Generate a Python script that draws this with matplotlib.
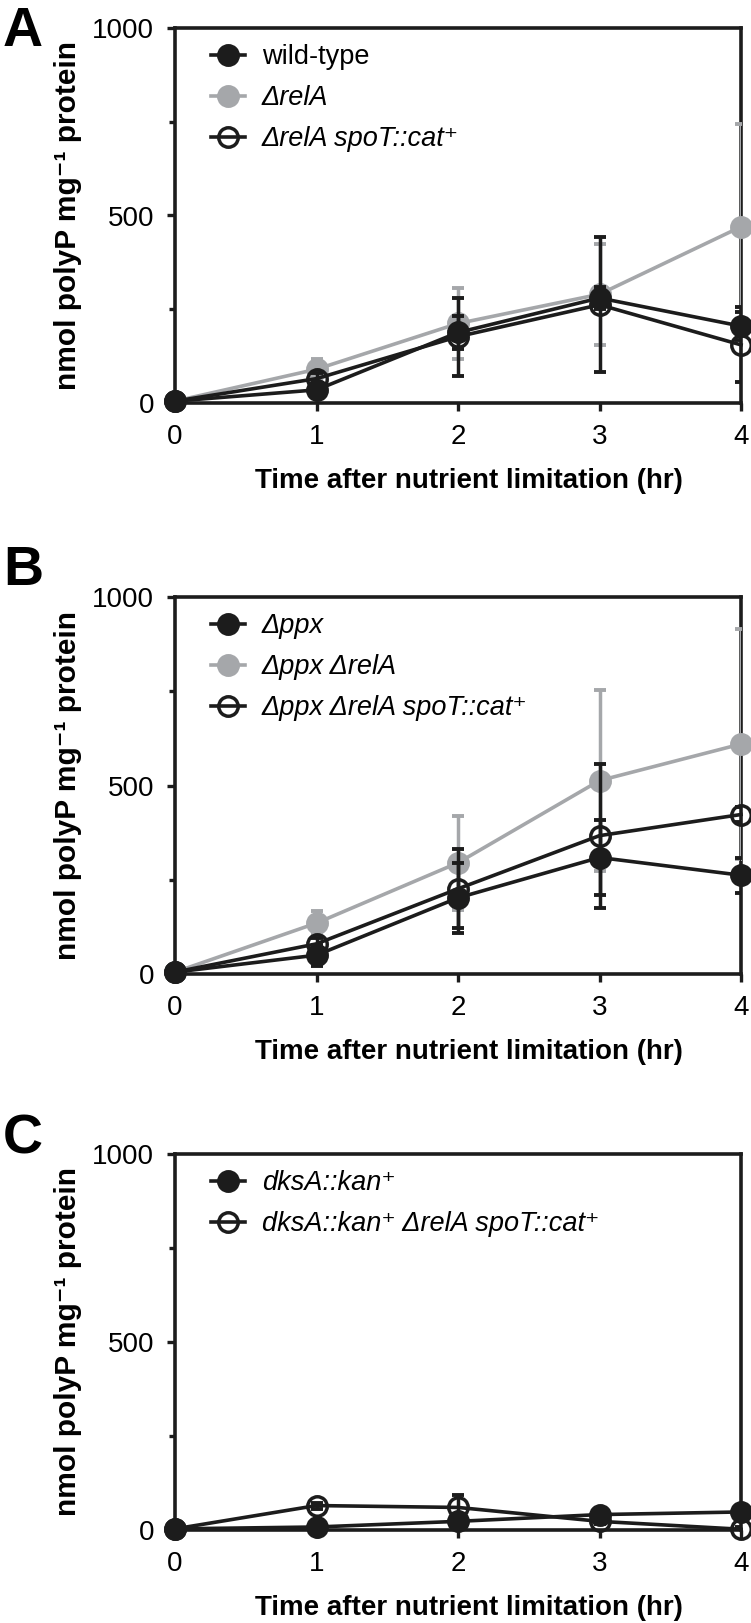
import matplotlib
matplotlib.use('Agg')
import matplotlib.pyplot as plt
import numpy as np

plt.rcParams['font.family'] = ['Liberation Sans', 'DejaVu Sans']

# hours after nutrient limitation
time = [0, 1, 2, 3, 4]

# panel A
a_labels = ['wild-type', '\u0394relA', '\u0394relA spoT::cat\u207a']
a_wt = [5, 35, 188, 280, 205]
a_wt_err = [0, 10, 45, 30, 37]
a_rela = [5, 90, 212, 290, 470]
a_rela_err = [0, 28, 95, 135, 275]
a_rela_spot = [5, 65, 177, 262, 155]
a_rela_spot_err = [0, 15, 104, 180, 100]

# panel B
b_labels = ['\u0394ppx', '\u0394ppx \u0394relA', '\u0394ppx \u0394relA spoT::cat\u207a']
b_ppx = [5, 50, 202, 309, 262]
b_ppx_err = [0, 28, 92, 100, 47]
b_ppx_rela = [5, 135, 295, 513, 610]
b_ppx_rela_err = [0, 31, 125, 240, 306]
b_ppx_rela_spot = [5, 80, 226, 367, 423]
b_ppx_rela_spot_err = [0, 15, 105, 191, 20]

# panel C
c_labels = ['dksA::kan\u207a', 'dksA::kan\u207a \u0394relA spoT::cat\u207a']
c_dksa = [3, 8, 23, 41, 48]
c_dksa_err = [0, 5, 10, 8, 8]
c_dksa_spot = [3, 65, 60, 23, 2]
c_dksa_spot_err = [0, 8, 34, 8, 5]

BLACK = '#1c1c1c'
GRAY = '#a5a7aa'
W, H = 751, 1623


def add_panel(fig, top, bottom):
    ax = fig.add_axes([175 / W, 1 - bottom / H, 566 / W, (bottom - top) / H])
    return ax


def draw_series(ax, y, err, color, filled, label, z):
    ax.errorbar(time, y, yerr=err, fmt='none', ecolor=color, elinewidth=2.5,
                capsize=4.5, capthick=2.8, zorder=z)
    ax.plot(time, y, color=color, lw=2.6, marker='o', ms=14,
            mfc=color if filled else 'none', mec=color, mew=2.5,
            label=label, zorder=z + 0.5, clip_on=False)


def style_axes(ax, top, bottom, italics):
    ax.set_xlim(0, 4)
    ax.set_ylim(0, 1000)
    ax.set_xticks(time)
    ax.set_yticks([0, 500, 1000])
    ax.set_yticks([250, 750], minor=True)
    for s in ax.spines.values():
        s.set_linewidth(2.6)
        s.set_color(BLACK)
    ax.tick_params(which='major', direction='out', length=6, width=2.4,
                   labelsize=20, pad=9, color=BLACK)
    ax.tick_params(which='minor', direction='out', length=4.5, width=2.4, color=BLACK)
    ax.set_xlabel('Time after nutrient limitation (hr)', fontsize=20, fontweight='bold')
    ax.xaxis.label.set_va('center')
    ax.xaxis.set_label_coords(0.52, -78 / (bottom - top))
    ax.set_ylabel('nmol polyP mg\u207b\u00b9 protein', fontsize=21.5, fontweight='bold')
    ax.yaxis.set_label_coords(-0.165, 0.5)

    leg = ax.legend(loc='upper left', bbox_to_anchor=(0.064, 1 - 16 / (bottom - top)),
                    frameon=False, borderpad=0, borderaxespad=0, fontsize=19.5,
                    handlelength=1.26, handletextpad=0.6, labelspacing=0.56,
                    numpoints=1)
    for t, it in zip(leg.get_texts(), italics):
        if it:
            t.set_fontstyle('italic')


fig = plt.figure(figsize=(7.51, 16.23), dpi=100)

# A
top, bottom = 28, 403
ax = add_panel(fig, top, bottom)
draw_series(ax, a_wt, a_wt_err, BLACK, True, a_labels[0], 4)
draw_series(ax, a_rela, a_rela_err, GRAY, True, a_labels[1], 3)
draw_series(ax, a_rela_spot, a_rela_spot_err, BLACK, False, a_labels[2], 4)
style_axes(ax, top, bottom, [False, True, True])
fig.text(3 / W, 1 - 46 / H, 'A', fontsize=40, fontweight='bold', ha='left', va='baseline')

# B
top, bottom = 597, 974
ax = add_panel(fig, top, bottom)
draw_series(ax, b_ppx, b_ppx_err, BLACK, True, b_labels[0], 4)
draw_series(ax, b_ppx_rela, b_ppx_rela_err, GRAY, True, b_labels[1], 3)
draw_series(ax, b_ppx_rela_spot, b_ppx_rela_spot_err, BLACK, False, b_labels[2], 4)
style_axes(ax, top, bottom, [True, True, True])
fig.text(3 / W, 1 - 585 / H, 'B', fontsize=40, fontweight='bold', ha='left', va='baseline')

# C
top, bottom = 1154, 1530
ax = add_panel(fig, top, bottom)
draw_series(ax, c_dksa, c_dksa_err, BLACK, True, c_labels[0], 4)
draw_series(ax, c_dksa_spot, c_dksa_spot_err, BLACK, False, c_labels[1], 4)
style_axes(ax, top, bottom, [True, True])
fig.text(3 / W, 1 - 1154 / H, 'C', fontsize=40, fontweight='bold', ha='left', va='baseline')

fig.savefig('out.png', dpi=100)
